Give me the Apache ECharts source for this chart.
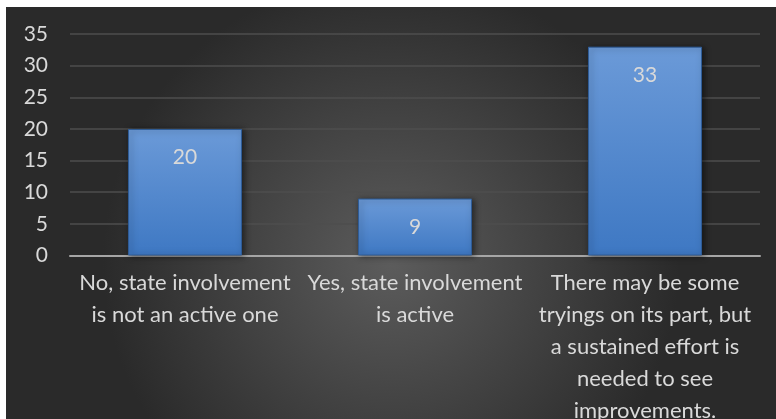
<!DOCTYPE html>
<html>
<head>
<meta charset="utf-8">
<script src="https://cdn.jsdelivr.net/npm/echarts@6/dist/echarts.min.js"></script>
<style>html,body{margin:0;padding:0;background:#fff;}#c{width:776px;height:419px;}</style>
</head>
<body>
<div id="c"></div>
<script>
var categories = [
  "No, state involvement\nis not an active one",
  "Yes, state involvement\nis active",
  "There may be some\ntryings on its part, but\na sustained effort is\nneeded to see\nimprovements."
];
var values = [20, 9, 33];
var yTicks = [0, 5, 10, 15, 20, 25, 30, 35];

var FONT = 'Lato, "Liberation Sans", sans-serif';
var chart = echarts.init(document.getElementById('c'));
chart.setOption({
  backgroundColor: '#ffffff',
  animation: false,
  graphic: [{
    type: 'rect', z: -10, silent: true,
    shape: {x: 6, y: 7, width: 770, height: 412},
    style: {
      fill: new echarts.graphic.RadialGradient(0.5, 0.62, 0.7, [
        {offset: 0, color: '#5c5c5c'},
        {offset: 1, color: '#2a2a2a'}
      ])
    }
  }],
  grid: {left: 70, right: 16, top: 34, bottom: 163.5, containLabel: false, outerBoundsMode: 'none'},
  xAxis: {
    type: 'category',
    data: categories,
    axisTick: {show: false},
    axisLine: {lineStyle: {color: '#a6a6a6', width: 2}},
    axisLabel: {
      color: '#d9d9d9', fontFamily: FONT, fontSize: 22, lineHeight: 32,
      margin: 11, interval: 0, align: 'center'
    }
  },
  yAxis: {
    type: 'value', min: yTicks[0], max: yTicks[yTicks.length - 1], interval: 5,
    axisLine: {show: false}, axisTick: {show: false},
    splitLine: {lineStyle: {color: '#4e4e4e', width: 1.5}},
    axisLabel: {color: '#d9d9d9', fontFamily: FONT, fontSize: 21, margin: 22}
  },
  series: [{
    type: 'bar',
    data: values,
    barWidth: '49.6%',
    itemStyle: {
      color: new echarts.graphic.LinearGradient(0, 0, 0, 1, [
        {offset: 0, color: '#6b9ad8'},
        {offset: 1, color: '#3e78c3'}
      ]),
      borderColor: '#2e5c98', borderWidth: 1,
      shadowColor: 'rgba(0,0,0,0.5)', shadowBlur: 6, shadowOffsetX: 2, shadowOffsetY: 1
    },
    label: {
      show: true, position: 'insideTop', distance: 18,
      color: '#d9d9d9', fontFamily: FONT, fontSize: 21
    }
  }]
});
</script>
</body>
</html>
